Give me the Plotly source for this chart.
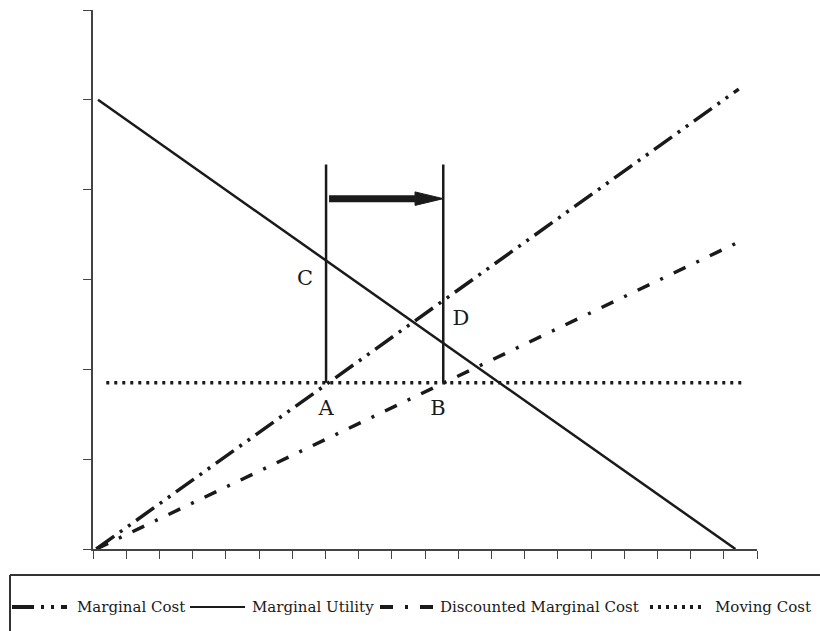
import plotly.graph_objects as go

# data
mc_x = [0.1, 19.45]
mc_y = [0.0, 5.12]
mu_x = [0.15, 19.35]
mu_y = [5.0, 0.0]
dmc_x = [0.1, 19.35]
dmc_y = [0.0, 3.4]
moving_x = [0.4, 19.6]
moving_y = [1.85, 1.85]

a_x = 7.02
b_x = 10.55
vline_y = [1.85, 4.28]

arrow_x0 = 7.11
arrow_y = 3.9
head_len = 0.85
head_half = 0.075

point_labels = ['A', 'B', 'C', 'D']
label_x = [7.02, 10.39, 6.39, 11.08]
label_y = [1.55, 1.55, 3.0, 2.55]

series_names = ['Marginal Cost', 'Marginal Utility', 'Discounted Marginal Cost', 'Moving Cost']

ink = '#1a1a1a'
font = 'DejaVu Serif'

styles = [
    dict(color=ink, width=3.5, dash='22px,7px,3px,7px,3px,7px'),
    dict(color=ink, width=2.5, dash='solid'),
    dict(color=ink, width=3.5, dash='13px,12px,3px,12px'),
    dict(color=ink, width=3.5, dash='3px,5px'),
]

fig = go.Figure()

for name, xs, ys, st in zip(series_names, [mc_x, mu_x, dmc_x, moving_x],
                            [mc_y, mu_y, dmc_y, moving_y], styles):
    fig.add_trace(go.Scatter(x=xs, y=ys, mode='lines', name=name, line=st, showlegend=False))

# vertical lines at A and B
for vx in [a_x, b_x]:
    fig.add_trace(go.Scatter(x=[vx, vx], y=vline_y, mode='lines', showlegend=False,
                             line=dict(color=ink, width=2.5), hoverinfo='skip'))

# arrow from A to B
fig.add_trace(go.Scatter(x=[arrow_x0, b_x - head_len], y=[arrow_y, arrow_y], mode='lines',
                         showlegend=False, line=dict(color=ink, width=7), hoverinfo='skip'))
fig.add_trace(go.Scatter(x=[b_x - head_len, b_x, b_x - head_len, b_x - head_len],
                         y=[arrow_y + head_half, arrow_y, arrow_y - head_half, arrow_y + head_half],
                         mode='lines', fill='toself', fillcolor=ink, showlegend=False,
                         line=dict(color=ink, width=1), hoverinfo='skip'))

fig.add_trace(go.Scatter(x=label_x, y=label_y, mode='text', text=point_labels,
                         textfont=dict(family=font, size=21, color=ink),
                         showlegend=False, hoverinfo='skip'))


# legend drawn by hand below the axes (pixel layout -> paper coords)
def px(x):
    return (x - 93) / 664


def py(y):
    return (549 - y) / 539


# frame runs off the right and bottom edges, so only top and left sides show
frame = dict(color='#333', width=2)
fig.add_shape(type='line', xref='paper', yref='paper',
              x0=px(10), x1=px(900), y0=py(575), y1=py(575), line=frame)
fig.add_shape(type='line', xref='paper', yref='paper',
              x0=px(10), x1=px(10), y0=py(575), y1=py(700), line=frame)

sample_x = [(12, 67), (190, 245), (380, 435), (650, 705)]
text_x = [75, 250, 438, 713]
row_y = 607
for name, st, (s0, s1), tx in zip(series_names, styles, sample_x, text_x):
    fig.add_shape(type='line', xref='paper', yref='paper',
                  x0=px(s0), x1=px(s1), y0=py(row_y), y1=py(row_y),
                  line=dict(color=ink, width=st['width'] + 0.5 if st['dash'] != 'solid' else 2,
                            dash=st['dash']))
    fig.add_annotation(text=name, xref='paper', yref='paper', x=px(tx), y=py(row_y),
                       xanchor='left', yanchor='middle', showarrow=False,
                       font=dict(family=font, size=15, color=ink))

fig.update_xaxes(range=[0, 20], dtick=1, showticklabels=False, ticks='outside',
                 ticklen=8, tickcolor='#444', showline=True, linecolor='#444',
                 linewidth=2, showgrid=False, zeroline=False)
fig.update_yaxes(range=[0, 6], dtick=1, showticklabels=False, ticks='outside',
                 ticklen=8, tickcolor='#444', showline=True, linecolor='#444',
                 linewidth=2, showgrid=False, zeroline=False)

fig.update_layout(
    width=820, height=631,
    margin=dict(l=93, r=63, t=10, b=82),
    plot_bgcolor='white', paper_bgcolor='white',
    font=dict(family=font, color=ink),
    showlegend=False,
)

# drop the default body margin so the figure fills the window exactly
fig.write_html('out.html', config={'displayModeBar': False},
               post_script="document.body.style.margin='0';document.body.style.overflow='hidden';")
